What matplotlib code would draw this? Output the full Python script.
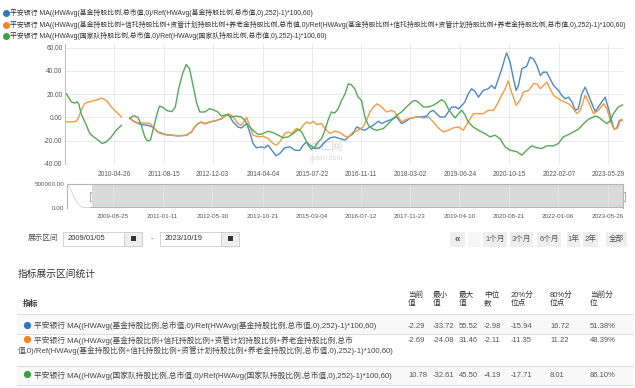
import matplotlib
matplotlib.use("Agg")
import matplotlib.pyplot as plt
from matplotlib.patches import Rectangle
import numpy as np
import pandas as pd

plt.rcParams["font.family"] = ["Liberation Sans", "Noto Sans CJK SC", "DejaVu Sans"]

# ---- data (decimal years, percent values) ----
legend_labels = [
    "平安银行 MA((HWAvg(基金持股比例,总市值,0)/Ref(HWAvg(基金持股比例,总市值,0),252)-1)*100,60)",
    "平安银行 MA((HWAvg(基金持股比例+信托持股比例+资管计划持股比例+养老金持股比例,总市值,0)/Ref(HWAvg(基金持股比例+信托持股比例+资管计划持股比例+养老金持股比例,总市值,0),252)-1)*100,60)",
    "平安银行 MA((HWAvg(国家队持股比例,总市值,0)/Ref(HWAvg(国家队持股比例,总市值,0),252)-1)*100,60)",
]

blue_t = [2010.72, 2010.85, 2011.03, 2011.20, 2011.34, 2011.47, 2011.65, 2011.82, 2011.96, 2012.22,
          2012.36, 2012.44, 2012.53, 2012.62, 2012.71, 2012.84, 2013.02, 2013.15, 2013.33, 2013.46,
          2013.59, 2013.68, 2013.82, 2013.90, 2013.99, 2014.08, 2014.21, 2014.30, 2014.39, 2014.52,
          2014.60, 2014.70, 2014.83, 2014.97, 2015.10, 2015.23, 2015.32, 2015.41, 2015.50, 2015.63,
          2015.76, 2015.90, 2016.03, 2016.16, 2016.29, 2016.43, 2016.52, 2016.65, 2016.74, 2016.87,
          2016.96, 2017.05, 2017.18, 2017.31, 2017.40, 2017.53, 2017.67, 2017.80, 2017.93, 2018.02,
          2018.15, 2018.33, 2018.46, 2018.60, 2018.68, 2018.77, 2018.86, 2018.95, 2019.08, 2019.17,
          2019.26, 2019.35, 2019.44, 2019.53, 2019.61, 2019.70, 2019.79, 2019.88, 2019.97, 2020.10,
          2020.23, 2020.32, 2020.41, 2020.50, 2020.59, 2020.68, 2020.72, 2020.81, 2020.90, 2020.97,
          2021.03, 2021.12, 2021.25, 2021.34, 2021.43, 2021.52, 2021.61, 2021.69, 2021.78, 2021.87,
          2021.96, 2022.09, 2022.18, 2022.27, 2022.36, 2022.45, 2022.54, 2022.62, 2022.71, 2022.80,
          2022.89, 2022.98, 2023.07, 2023.15, 2023.24, 2023.33, 2023.42, 2023.51, 2023.57, 2023.64,
          2023.71, 2023.80]
blue_v = [-0.6, -4, -6.3, -6.9, -8.6, -12.6, -14.6, -15.4, -16, -15.6,
          -12.8, -8.5, -5.6, -4.2, -5.6, -4.2, -2.8, -1.3, 2.9, -4,
          -8.3, -9.2, -5.4, -12.6, -22.6, -26.3, -25.5, -26.3, -24, -29.7,
          -33.2, -31.2, -26.3, -25.5, -28.3, -28.6, -24, -21.2, -24, -26.9,
          -26.3, -21.2, -17.7, -16.9, -18.3, -19.7, -16.9, -14, -8.3, -10.3,
          -11.2, -9.2, -6.9, -3.4, -5.4, -3.4, -1.7, 0.3, -5.4, -4,
          -1.1, 0.3, 0.3, 1.1, 4.6, 6, 3.1, 0.3, 0.3, 4.6,
          8.9, 8.9, 7.4, 10.3, 13.2, 20.3, 24.6, 22.3, 17.4, 23.2,
          24.6, 27.5, 24.6, 33.2, 41.8, 51.8, 55.5, 47.5, 33.2, 23.2,
          27.5, 41.8, 44, 51.8, 50.3, 44.6, 36, 38.9, 38.9, 33.2,
          27.5, 23.2, 18.9, 16, 17.4, 13.2, 6, 7.4, 20.3, 26,
          18.9, 11.7, 4.6, 8.9, 13.2, 17.4, 7.4, -4, -10.3, -9.2,
          -2.6, -2.29]

orange_t = [2009.04, 2009.17, 2009.30, 2009.37, 2009.43, 2009.52, 2009.61, 2009.70, 2009.79, 2009.88,
            2009.97, 2010.05, 2010.14, 2010.23, 2010.32, 2010.41, 2010.50, 2010.61, 2010.72, 2010.81,
            2010.94, 2011.07, 2011.25, 2011.34, 2011.43, 2011.51, 2011.69, 2011.87, 2012.05, 2012.22,
            2012.36, 2012.44, 2012.53, 2012.62, 2012.71, 2012.84, 2013.02, 2013.15, 2013.33, 2013.42,
            2013.51, 2013.59, 2013.68, 2013.82, 2013.99, 2014.13, 2014.26, 2014.39, 2014.52, 2014.61,
            2014.70, 2014.83, 2014.92, 2015.01, 2015.14, 2015.23, 2015.32, 2015.41, 2015.50, 2015.59,
            2015.68, 2015.81, 2015.90, 2016.03, 2016.16, 2016.29, 2016.43, 2016.52, 2016.65, 2016.78,
            2016.91, 2017.00, 2017.09, 2017.18, 2017.28, 2017.40, 2017.53, 2017.67, 2017.75, 2017.84,
            2017.93, 2018.06, 2018.20, 2018.33, 2018.51, 2018.64, 2018.77, 2018.91, 2019.04, 2019.17,
            2019.30, 2019.44, 2019.57, 2019.70, 2019.83, 2019.97, 2020.10, 2020.23, 2020.37, 2020.45,
            2020.54, 2020.68, 2020.76, 2020.85, 2020.97, 2021.07, 2021.16, 2021.30, 2021.43, 2021.52,
            2021.61, 2021.69, 2021.78, 2021.87, 2021.96, 2022.09, 2022.22, 2022.36, 2022.49, 2022.58,
            2022.67, 2022.80, 2022.89, 2023.02, 2023.15, 2023.29, 2023.38, 2023.48, 2023.57, 2023.66,
            2023.73, 2023.80]
orange_v = [-4, -4, -3.4, 0.3, 6, 11.7, 13.2, 13.7, 14.6, 15.4,
            16.6, 15.4, 13.2, 8.9, 6, 3.1, 0.3, np.nan, -0.6, -3.4,
            -4.6, -4.9, -5.1, -8.3, -12, -13.7, -15.2, -15.4, -16, -15.4,
            -12.6, -8.3, -5.4, -4, -5.4, -4, -2.6, -1.1, 3.1, 1.7,
            -1.7, -5.4, -6.9, 0, -15.4, -16.9, -16.3, -18.3, -22.6, -24,
            -21.2, -14, -12.6, -14, -9.7, -11.2, -6.9, -4, -5.4, -3.4,
            -6.3, -5.4, -9.7, -14, -12, -13, -16.3, -16.9, -12.6, -11.2,
            -8.3, -2.6, 4.6, 8.9, 11.7, 8.9, 4.6, 6, 4.6, 0.3,
            -4, -1.7, -0.6, 0.3, -0.6, 0.3, -4, -9.2, -12.6, -11.2,
            -9.2, -8.3, -11.2, -4, 3.1, 3.1, 3.1, 6, 6, 10.3,
            16, 24.6, 31.4, 21.7, 10.3, 14.6, 21.7, 23.2, 28.9, 28.9,
            24.6, 27.5, 30.3, 24.6, 18.9, 16, 13.7, 11.7, 7.4, 3.1,
            6, 18.9, 13.2, 3.1, 6, 11.7, 7.4, -4, -10.3, -9.2,
            -3.1, -2.69]

green_t = [2009.04, 2009.17, 2009.26, 2009.32, 2009.37, 2009.43, 2009.57, 2009.66, 2009.74, 2009.88,
           2009.99, 2010.10, 2010.23, 2010.36, 2010.50, 2010.61, 2010.72, 2010.82, 2010.94, 2011.03,
           2011.12, 2011.19, 2011.27, 2011.35, 2011.44, 2011.51, 2011.60, 2011.71, 2011.84, 2011.93,
           2012.02, 2012.13, 2012.22, 2012.31, 2012.40, 2012.49, 2012.58, 2012.71, 2012.84, 2012.93,
           2013.06, 2013.15, 2013.29, 2013.42, 2013.55, 2013.68, 2013.77, 2013.86, 2013.99, 2014.13,
           2014.26, 2014.39, 2014.52, 2014.66, 2014.79, 2014.92, 2015.06, 2015.19, 2015.28, 2015.37,
           2015.45, 2015.54, 2015.63, 2015.72, 2015.81, 2015.90, 2015.98, 2016.07, 2016.16, 2016.25,
           2016.34, 2016.43, 2016.52, 2016.60, 2016.69, 2016.78, 2016.87, 2016.96, 2017.05, 2017.14,
           2017.27, 2017.45, 2017.62, 2017.80, 2017.93, 2018.06, 2018.20, 2018.28, 2018.37, 2018.51,
           2018.64, 2018.77, 2018.91, 2018.99, 2019.08, 2019.17, 2019.26, 2019.35, 2019.44, 2019.53,
           2019.61, 2019.70, 2019.83, 2019.97, 2020.14, 2020.28, 2020.41, 2020.54, 2020.68, 2020.81,
           2020.99, 2021.12, 2021.25, 2021.38, 2021.52, 2021.65, 2021.78, 2021.96, 2022.09, 2022.22,
           2022.36, 2022.49, 2022.62, 2022.76, 2022.89, 2023.07, 2023.15, 2023.29, 2023.38, 2023.46,
           2023.55, 2023.68, 2023.80]
green_v = [20.3, 13.2, 12.3, 13.4, 11.4, 3.1, -6.9, -14, -16.3, -19.7,
           -22.6, -21.2, -16.9, -11.2, -6.9, np.nan, -1.1, 1.4, 0, -6.9,
           -16.9, -20.3, -19.7, -9.2, 2.3, 9.7, 8.6, 5.7, 4.9, 8.9,
           24.6, 38.3, 45.5, 41.8, 27.5, 13.2, 4.6, 4.6, 7.4, 6.6,
           4.6, 1.1, 2.3, 0.3, 1.1, 0.3, -2.6, -6.9, -11.2, -14.9,
           -14, -12, -13.2, -15.4, -17.7, -16.9, -14, -10.3, -12.6, -18.3,
           -24, -27.5, -25.5, -21.2, -18.3, -11.2, -2.6, 4.6, 3.7, 7.4,
           14.6, 20, 28.9, 28, 24.6, 17.4, 14.6, 0.3, -6.9, -9.7,
           -11.2, -9.7, -4, 1.7, 4.6, 8.9, 13.2, 14.6, 13.2, 8.9,
           8.9, 10.3, 13.2, 15.2, 13.2, 7.4, 3.1, -0.6, 3.1, 6,
           2.3, -4, -8.3, -11.2, -14, -16.9, -15.4, -18.3, -25.5, -28.3,
           -29.7, -32.6, -28.3, -24.6, -26.3, -26.9, -24.6, -24.6, -22.6, -16.9,
           -14.9, -12.6, -10.3, -5.4, -1.7, 1.1, 0.3, -3.4, -5.4, -3.4,
           3.1, 8.9, 10.78]

# navigator: a faint early series that starts very high
nav_early_t = [2008.38, 2008.45, 2008.52, 2008.60, 2008.70, 2008.80, 2009.05]
nav_early_v = [500000, 420000, 300000, 170000, 60000, 8000, 0]

y_ticks = [-40, -20, 0, 20, 40, 60]
main_ticks = ["2010-04-26", "2011-08-15", "2012-12-03", "2014-04-04", "2015-07-22", "2016-11-11",
              "2018-03-02", "2019-06-24", "2020-10-15", "2022-02-07", "2023-05-29"]
nav_ticks = ["2009-08-25", "2011-01-11", "2012-05-30", "2013-10-21", "2015-03-04", "2016-07-12",
             "2017-11-23", "2019-04-10", "2020-08-21", "2022-01-06", "2023-05-26"]
range_start, range_end = "2009/01/05", "2023/10/19"
buttons = ["«", "", "1个月", "3个月", "6个月", "1年", "2年", "全部"]

stat_headers = [("当前", "值"), ("最小", "值"), ("最大", "值"), ("中位", "数"),
                ("20%分", "位点"), ("80%分", "位点"), ("当前分", "位")]
stat_rows = [
    ["-2.29", "-33.72", "55.52", "-2.98", "-15.94", "16.72", "51.38%"],
    ["-2.69", "-24.08", "31.46", "-2.11", "-11.35", "11.22", "48.39%"],
    ["10.78", "-32.61", "45.50", "-4.19", "-17.71", "8.01", "86.10%"],
]
row_names = [
    ["平安银行 MA((HWAvg(基金持股比例,总市值,0)/Ref(HWAvg(基金持股比例,总市值,0),252)-1)*100,60)"],
    ["平安银行 MA((HWAvg(基金持股比例+信托持股比例+资管计划持股比例+养老金持股比例,总市",
     "值,0)/Ref(HWAvg(基金持股比例+信托持股比例+资管计划持股比例+养老金持股比例,总市值,0),252)-1)*100,60)"],
    ["平安银行 MA((HWAvg(国家队持股比例,总市值,0)/Ref(HWAvg(国家队持股比例,总市值,0),252)-1)*100,60)"],
]

line_colors = ["#4a88c9", "#f59b3e", "#55a955"]
dot_colors = ["#2b78c2", "#f5861f", "#3aa23a"]


def to_dates(years):
    out = []
    for y in years:
        base = pd.Timestamp(int(y), 1, 1)
        out.append(base + pd.Timedelta(days=(y - int(y)) * 365.25))
    return out


W, H = 635, 388
fig = plt.figure(figsize=(W / 100, H / 100), dpi=100)
fig.patch.set_facecolor("white")


def box(x0, y0, x1, y1):
    return [x0 / W, 1 - y1 / H, (x1 - x0) / W, (y1 - y0) / H]


# overlay in pixel coordinates for the page furniture
ov = fig.add_axes([0, 0, 1, 1])
ov.set_xlim(0, W)
ov.set_ylim(H, 0)
ov.axis("off")

# legend
for i, (lab, c) in enumerate(zip(legend_labels, dot_colors)):
    y = 13 + i * 11.5
    ov.plot(6, y, "o", ms=4, color=c)
    ov.text(10.5, y, lab, fontsize=4.95, color="#333333", va="center", ha="left")

# main chart
ax = fig.add_axes(box(65.3, 44, 622.7, 163.7))
ax.patch.set_alpha(0)
for t, v, c in [(blue_t, blue_v, line_colors[0]), (orange_t, orange_v, line_colors[1]),
                (green_t, green_v, line_colors[2])]:
    ax.plot(to_dates(t), v, color=c, lw=1.0)
ax.set_xlim(pd.Timestamp("2009-01-05"), pd.Timestamp("2023-10-19"))
ax.set_ylim(-40, 63.2)
ax.set_yticks(y_ticks)
ax.set_yticklabels([f"{v:.2f}" for v in y_ticks])
ax.set_xticks(pd.to_datetime(main_ticks))
ax.set_xticklabels(main_ticks)
ax.grid(color="#e6e6e6", lw=0.6)
ax.set_axisbelow(True)
ax.tick_params(length=0, labelsize=4.7, colors="#555555")
ax.tick_params(axis="x", pad=5)
ax.tick_params(axis="y", pad=2)
for s in ["top", "right", "bottom"]:
    ax.spines[s].set_visible(False)
ax.spines["left"].set_color("#c0c0c0")
ax.spines["left"].set_linewidth(0.8)

# watermark
ov.text(326, 147, "果仁网", fontsize=8, color="#d6d6d6", ha="center", va="center")
ov.text(326, 159, "guorn.com", fontsize=5, color="#d6d6d6", ha="center", va="center")

# navigator
nav = fig.add_axes(box(67, 184, 623, 208))
nav.patch.set_alpha(0)
nav.set_xlim(pd.Timestamp("2008-05-15"), pd.Timestamp("2023-10-25"))
nav.set_ylim(-6000, 500000)
nav.axvspan(pd.Timestamp("2009-01-22"), pd.Timestamp("2023-10-25"), color="#dadada", lw=0, zorder=1)
for d in nav_ticks:
    nav.axvline(pd.Timestamp(d), color="#e8e8e8", lw=0.6, zorder=2)
nav.plot(to_dates(nav_early_t), nav_early_v, color="#cfcfcf", lw=0.6, zorder=3)
nav.plot(to_dates(green_t), np.nan_to_num(green_v) * 0, color="#8cc98c", lw=1.2, zorder=3)
nav.set_yticks([0, 500000])
nav.set_yticklabels(["0.00", "500000.00"])
nav.set_xticks(pd.to_datetime(nav_ticks))
nav.set_xticklabels(nav_ticks)
nav.tick_params(length=0, labelsize=4.5, colors="#555555")
nav.tick_params(axis="x", pad=4)
nav.tick_params(axis="y", pad=2)
nav.spines["bottom"].set_visible(False)
for s in ["top", "left", "right"]:
    nav.spines[s].set_color("#b5b5b5")
    nav.spines[s].set_linewidth(0.8)
for hx in [89.5, 621]:
    ov.add_patch(Rectangle((hx, 191.5), 4, 9, fc="white", ec="#999999", lw=0.6, zorder=5))

# date range inputs
ov.text(28, 238.5, "展示区间", fontsize=5.5, color="#555555", va="center")
for x0, txt in [(63, range_start), (160, range_end)]:
    ov.add_patch(Rectangle((x0, 231.5), 79, 14, fc="white", ec="#cccccc", lw=0.6))
    ov.add_patch(Rectangle((x0 + 61, 231.5), 18, 14, fc="#eeeeee", ec="#cccccc", lw=0.6))
    ov.add_patch(Rectangle((x0 + 68, 235.5), 5, 5.5, fc="#333333", lw=0))
    ov.text(x0 + 5, 238.5, txt, fontsize=5.5, color="#333333", va="center")
ov.text(152, 238.5, "-", fontsize=5.5, color="#555555", va="center", ha="center")

# range buttons
btn_x = [(450, 465), (468, 481), (483, 507), (510, 533), (537, 561), (567, 580), (583, 598), (606, 627)]
for (x0, x1), lab in zip(btn_x, buttons):
    ov.add_patch(Rectangle((x0, 231.5), x1 - x0, 15, fc="#eeeeee" if lab else "#f6f6f6", lw=0))
    ov.text((x0 + x1) / 2, 239, lab, fontsize=5.5 if lab != "«" else 7, color="#555555",
            ha="center", va="center", fontweight="bold" if lab == "«" else "normal")

# stats table
ov.text(18, 274, "指标展示区间统计", fontsize=7, color="#333333", va="center")
ov.text(23, 304, "指标", fontsize=5.5, color="#333333", va="center", fontweight="bold")
col_x = [408, 433, 459, 484, 511, 550, 590]
for cx, (l1, l2) in zip(col_x, stat_headers):
    ov.text(cx, 295, l1, fontsize=5.5, color="#333333", va="center")
    ov.text(cx, 303.5, l2, fontsize=5.5, color="#333333", va="center")

row_top = [314, 334, 366]
row_bot = [334, 366, 385]
row_y = [[326], [340.5, 350.5], [375.5]]
for i in range(3):
    if i != 1:
        ov.add_patch(Rectangle((17, row_top[i]), 616, row_bot[i] - row_top[i], fc="#f8f8f8", lw=0))
    ov.plot([17, 633], [row_top[i], row_top[i]], color="#dddddd", lw=0.7)
    ov.plot(27, row_y[i][0] - 1.5, "o", ms=4.2, color=dot_colors[i])
    for j, line in enumerate(row_names[i]):
        ov.text(34.5 if j == 0 else 18, row_y[i][j], line, fontsize=5.55, color="#444444", va="center")
    for cx, val in zip(col_x, stat_rows[i]):
        ov.text(cx, row_y[i][0], val, fontsize=5.5, color="#555555", va="center")
ov.plot([17, 633], [385, 385], color="#dddddd", lw=0.7)

fig.savefig("out.png", dpi=100)
